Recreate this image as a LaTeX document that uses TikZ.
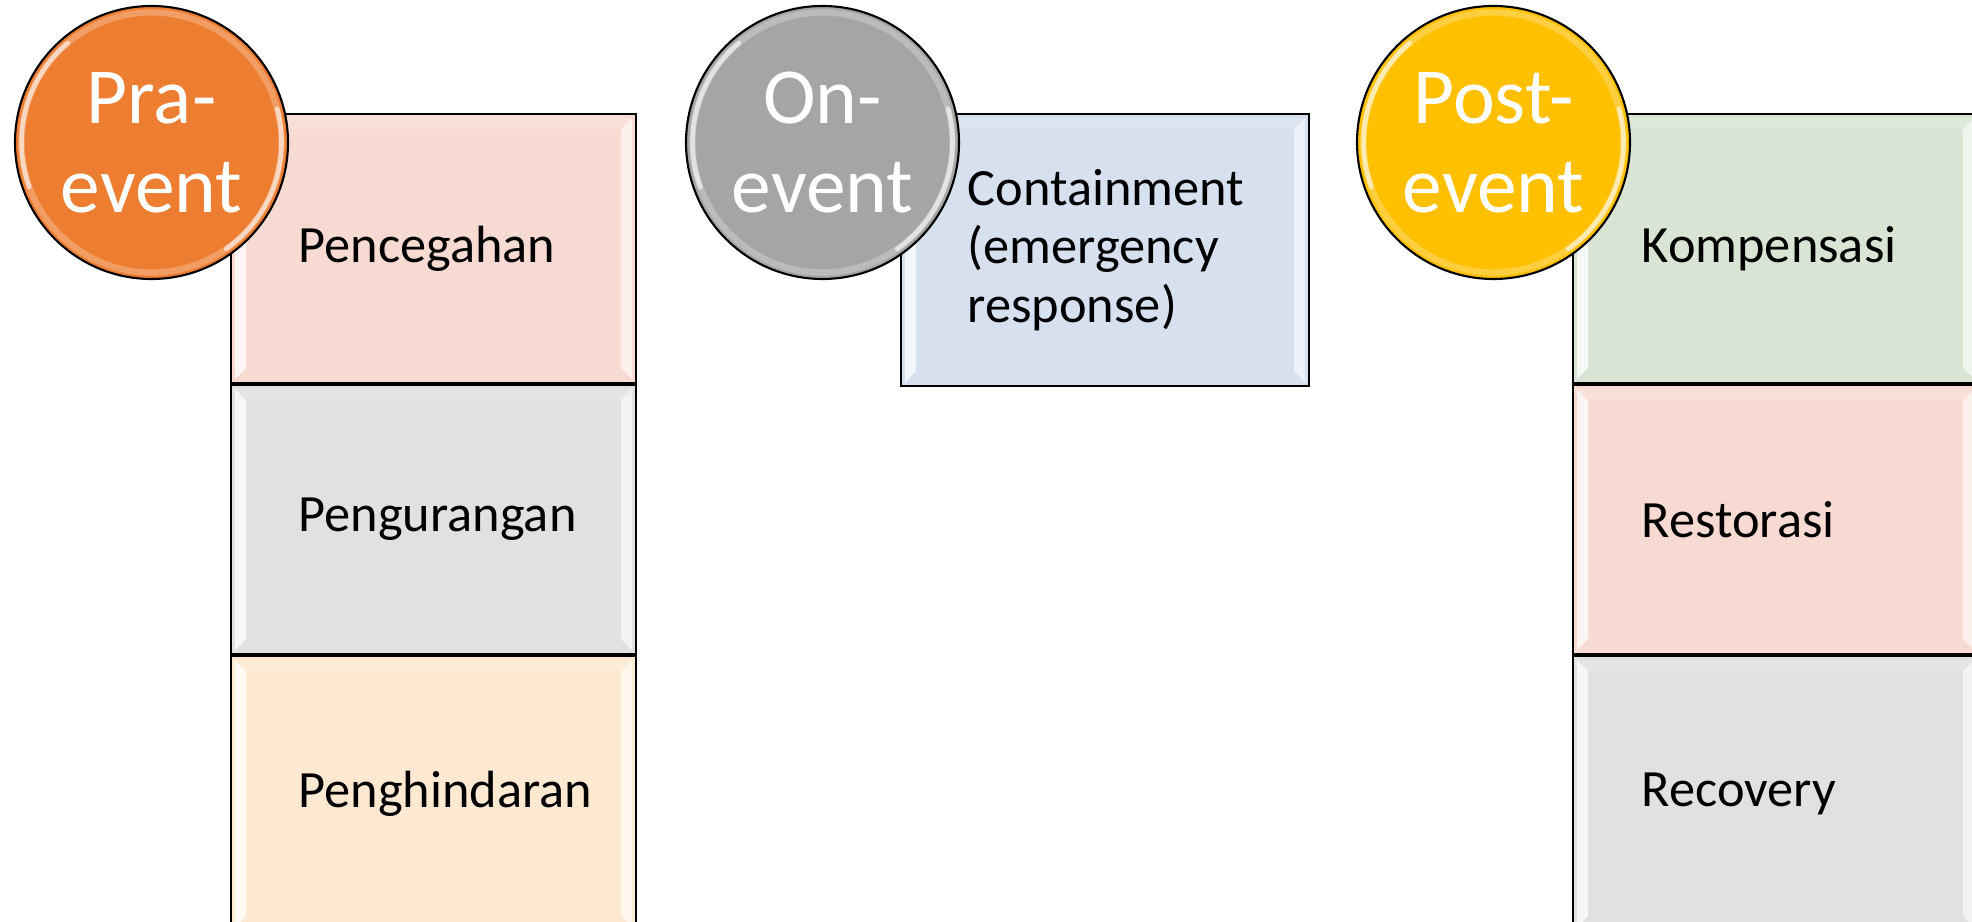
\documentclass[tikz,border=0pt]{standalone}
\usepackage{fontspec}
\setmainfont{Carlito}
\usetikzlibrary{positioning}

\definecolor{praorange}{HTML}{ED7D31}
\definecolor{ongray}{HTML}{A5A5A5}
\definecolor{postgold}{HTML}{FFC000}
\definecolor{softpink}{HTML}{F7DAD1}
\definecolor{softgray}{HTML}{E1E1E1}
\definecolor{softpeach}{HTML}{FDE9D1}
\definecolor{softblue}{HTML}{D6E0EF}
\definecolor{softgreen}{HTML}{D9E4D5}

\tikzset{
  phasecircle/.style={circle, draw=black, line width=0.6pt, minimum size=2.73cm,
    inner sep=0pt, align=center, text=white, font=\fontsize{22.6}{25.3}\selectfont,
    path picture={
      \draw[white, opacity=0.25, line width=1.8pt]
        (path picture bounding box.center) circle[radius=1.30];
      \draw[white, opacity=0.6, line width=1.3pt, line cap=round]
        ([shift={(130:1.30)}]path picture bounding box.center) arc[start angle=130, end angle=200, radius=1.30];
      \draw[white, opacity=0.6, line width=1.3pt, line cap=round]
        ([shift={(15:1.30)}]path picture bounding box.center) arc[start angle=15, end angle=-55, radius=1.30];
    }},
  phasebox/.style={rectangle, draw=black, line width=0.6pt, minimum width=4.05cm,
    minimum height=2.69cm, inner sep=0pt,
    path picture={
      \fill[white, opacity=0.75] ([shift={(0.04,-0.04)}]path picture bounding box.north west) -- ++(0.11,-0.11)
        -- ([shift={(0.15,0.15)}]path picture bounding box.south west) -- ++(-0.11,-0.11) -- cycle;
      \fill[white, opacity=0.6] ([shift={(-0.04,-0.04)}]path picture bounding box.north east) -- ++(-0.11,-0.11)
        -- ([shift={(-0.15,0.15)}]path picture bounding box.south east) -- ++(0.11,-0.11) -- cycle;
      \fill[white, opacity=0.15] ([shift={(0.04,-0.04)}]path picture bounding box.north west) -- ++(0.11,-0.11)
        -- ([shift={(-0.15,-0.15)}]path picture bounding box.north east) -- ++(0.11,0.11) -- cycle;
    }},
  boxtext/.style={inner sep=0pt, align=left, font=\fontsize{14.9}{16.6}\selectfont}
}

\begin{document}
\begin{tikzpicture}

\useasboundingbox (0,0) rectangle (19.72,9.21);
\clip (0,0) rectangle (19.72,9.21);

% pra-event column
\node[phasebox, fill=softpink, anchor=north west] (cegah) at (2.30,8.08) {};
\node[phasebox, fill=softgray, below=0pt of cegah] (kurang) {};
\node[phasebox, fill=softpeach, below=0pt of kurang, minimum height=2.75cm] (hindar) {};

\node[boxtext, right=0.68cm of cegah.west] (cegahtxt) {Pencegahan};
\node[boxtext, right=0.68cm of kurang.west] (kurangtxt) {Pengurangan};
\node[boxtext, right=0.68cm of hindar.west] (hindartxt) {Penghindaran};

% on-event column
\node[phasebox, fill=softblue, anchor=north west, minimum width=4.08cm, minimum height=2.72cm] (contain) at (9.00,8.08) {};
\node[boxtext, right=0.67cm of contain.west] (containtxt) {Containment\\(emergency\\response)};

% post-event column
\node[phasebox, fill=softgreen, anchor=north west] (kompen) at (15.72,8.08) {};
\node[phasebox, fill=softpink, below=0pt of kompen] (restor) {};
\node[phasebox, fill=softgray, below=0pt of restor, minimum height=2.75cm] (recov) {};

\node[boxtext, right=0.69cm of kompen.west] (kompentxt) {Kompensasi};
\node[boxtext, right=0.69cm of restor.west] (restortxt) {Restorasi};
\node[boxtext, right=0.69cm of recov.west] (recovtxt) {Recovery};

% phase circles on top
\node[phasecircle, fill=praorange] (pra) at (1.515,7.785) {Pra-\\event};
\node[phasecircle, fill=ongray] (on) at (8.225,7.785) {On-\\event};
\node[phasecircle, fill=postgold] (post) at (14.935,7.785) {Post-\\event};

\end{tikzpicture}
\end{document}
